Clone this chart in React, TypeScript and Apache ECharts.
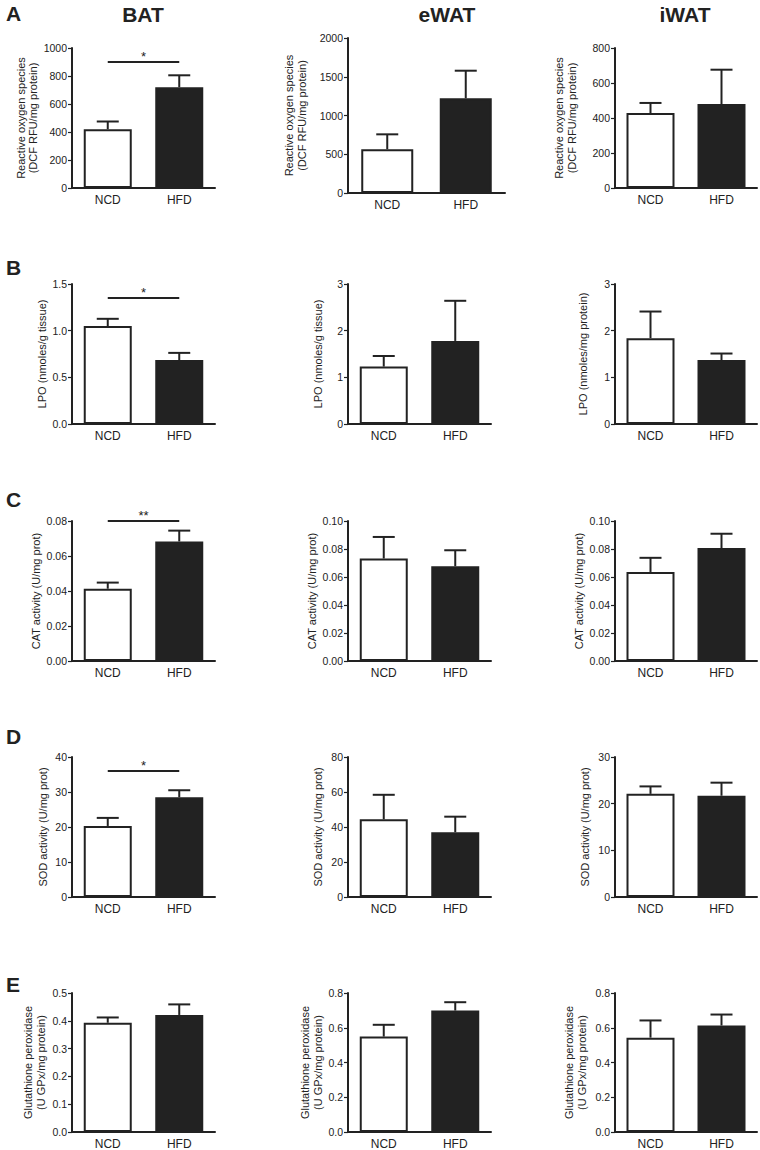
import React, { useEffect, useRef } from "react";
import * as echarts from "echarts";

// ---------- data ----------
const categories = ["NCD", "HFD"];
const rowLetters = ["A", "B", "C", "D", "E"];
const columnTitles = ["BAT", "eWAT", "iWAT"];

// Row A: reactive oxygen species
const rosBATMean = [420, 720];
const rosBATSem = [55, 85];
const rosEWATMean = [565, 1222];
const rosEWATSem = [192, 356];
const rosIWATMean = [428, 480];
const rosIWATSem = [58, 196];

// Row B: LPO
const lpoBATMean = [1.05, 0.685];
const lpoBATSem = [0.077, 0.077];
const lpoEWATMean = [1.23, 1.78];
const lpoEWATSem = [0.227, 0.86];
const lpoIWATMean = [1.84, 1.37];
const lpoIWATSem = [0.57, 0.14];

// Row C: CAT activity
const catBATMean = [0.0413, 0.0683];
const catBATSem = [0.0035, 0.0062];
const catEWATMean = [0.0732, 0.0677];
const catEWATSem = [0.0154, 0.0114];
const catIWATMean = [0.0636, 0.0807];
const catIWATSem = [0.0101, 0.0102];

// Row D: SOD activity
const sodBATMean = [20.3, 28.5];
const sodBATSem = [2.3, 2.0];
const sodEWATMean = [44.4, 37.0];
const sodEWATSem = [14.0, 8.9];
const sodIWATMean = [22.1, 21.7];
const sodIWATSem = [1.6, 2.8];

// Row E: glutathione peroxidase
const gpxBATMean = [0.393, 0.421];
const gpxBATSem = [0.019, 0.038];
const gpxEWATMean = [0.549, 0.699];
const gpxEWATSem = [0.068, 0.048];
const gpxIWATMean = [0.543, 0.613];
const gpxIWATSem = [0.099, 0.063];

// axis names
const yNames = [
  ["Reactive oxygen species\n(DCF RFU/mg protein)", "Reactive oxygen species\n(DCF RFU/mg protein)", "Reactive oxygen species\n(DCF RFU/mg protein)"],
  ["LPO (nmoles/g tissue)", "LPO (nmoles/g tissue)", "LPO (nmoles/mg protein)"],
  ["CAT activity (U/mg prot)", "CAT activity (U/mg prot)", "CAT activity (U/mg prot)"],
  ["SOD activity (U/mg prot)", "SOD activity (U/mg prot)", "SOD activity (U/mg prot)"],
  ["Glutathione peroxidase\n(U GPx/mg protein)", "Glutathione peroxidase\n(U GPx/mg protein)", "Glutathione peroxidase\n(U GPx/mg protein)"],
];

// axis scales (tick labels)
const yMax = [[1000, 2000, 800], [1.5, 3, 3], [0.08, 0.1, 0.1], [40, 80, 30], [0.5, 0.8, 0.8]];
const yStep = [[200, 500, 200], [0.5, 1, 1], [0.02, 0.02, 0.02], [10, 20, 10], [0.1, 0.2, 0.2]];
const yDecimals = [[0, 0, 0], [1, 0, 0], [2, 2, 2], [0, 0, 0], [1, 1, 1]];

// significance (BAT column only)
const sigLabels = ["*", "*", "**", "*", ""];
const sigLevels = [900, 1.35, 0.08, 36, null];

const means = [
  [rosBATMean, rosEWATMean, rosIWATMean],
  [lpoBATMean, lpoEWATMean, lpoIWATMean],
  [catBATMean, catEWATMean, catIWATMean],
  [sodBATMean, sodEWATMean, sodIWATMean],
  [gpxBATMean, gpxEWATMean, gpxIWATMean],
];
const sems = [
  [rosBATSem, rosEWATSem, rosIWATSem],
  [lpoBATSem, lpoEWATSem, lpoIWATSem],
  [catBATSem, catEWATSem, catIWATSem],
  [sodBATSem, sodEWATSem, sodIWATSem],
  [gpxBATSem, gpxEWATSem, gpxIWATSem],
];

// ---------- layout ----------
const FONT = "'Liberation Sans', Arial, Helvetica, sans-serif";
const INK = "#222222";
const colLeft = [72, 348, 615];
const colWidth = [143, 143, 142];
const rowTop = [48, 284, 521, 757, 993];
const rowHeight = 140;
const nameGaps = [
  [29, 40, 37],
  [24, 24, 26],
  [28, 29, 29],
  [23, 24, 24],
  [25, 24, 27],
];
const letterY = [14, 268, 500, 737, 985];
const titleX = [143, 447, 685];

function buildOption() {
  const grid: any[] = [];
  const xAxis: any[] = [];
  const yAxis: any[] = [];
  const series: any[] = [];
  let idx = 0;
  for (let r = 0; r < 5; r++) {
    for (let c = 0; c < 3; c++) {
      let top = rowTop[r];
      let height = rowHeight;
      let width = colWidth[c];
      let barWidth = 48;
      if (r === 0 && c === 1) {
        top = 38;
        height = 155;
        width = 157;
        barWidth = 52;
      }
      grid.push({ left: colLeft[c], top, width, height, containLabel: false });
      xAxis.push({
        type: "category",
        gridIndex: idx,
        data: categories,
        axisLine: { show: true, lineStyle: { color: INK, width: 2 } },
        axisTick: { show: false },
        axisLabel: { color: INK, fontSize: 12, fontFamily: FONT, margin: 6 },
        splitLine: { show: false },
      });
      const dec = yDecimals[r][c];
      yAxis.push({
        type: "value",
        gridIndex: idx,
        min: 0,
        max: yMax[r][c],
        interval: yStep[r][c],
        name: yNames[r][c],
        nameLocation: "middle",
        nameRotate: 90,
        nameGap: nameGaps[r][c],
        nameTextStyle: { color: INK, fontSize: 11, fontFamily: FONT, lineHeight: 12.5 },
        axisLine: { show: true, lineStyle: { color: INK, width: 2 } },
        axisTick: { show: true, length: 4, lineStyle: { color: INK, width: 1.2 } },
        axisLabel: {
          color: INK,
          fontSize: 10.5,
          fontFamily: FONT,
          margin: 5,
          formatter: (v: number) => v.toFixed(dec),
        },
        splitLine: { show: false },
      });
      const m = means[r][c];
      const s = sems[r][c];
      series.push({
        type: "bar",
        xAxisIndex: idx,
        yAxisIndex: idx,
        barWidth,
        data: m.map((v, i) => ({
          value: v,
          itemStyle: { color: i === 0 ? "#ffffff" : INK, borderColor: INK, borderWidth: 2 },
        })),
        z: 2,
      });
      series.push({
        type: "custom",
        xAxisIndex: idx,
        yAxisIndex: idx,
        clip: false,
        z: 3,
        encode: { x: 0, y: 1 },
        data: m.map((v, i) => [i, v, v + s[i]]),
        renderItem: (params: any, api: any) => {
          const base = api.coord([api.value(0), api.value(1)]);
          const tip = api.coord([api.value(0), api.value(2)]);
          return {
            type: "group",
            children: [
              { type: "line", shape: { x1: base[0], y1: base[1], x2: tip[0], y2: tip[1] }, style: { stroke: INK, lineWidth: 2 } },
              { type: "line", shape: { x1: tip[0] - 11, y1: tip[1], x2: tip[0] + 11, y2: tip[1] }, style: { stroke: INK, lineWidth: 2 } },
            ],
          };
        },
      });
      if (c === 0 && sigLevels[r] !== null) {
        const lbl = sigLabels[r];
        series.push({
          type: "custom",
          xAxisIndex: idx,
          yAxisIndex: idx,
          clip: false,
          z: 3,
          encode: { x: 0, y: 1 },
          data: [[0, sigLevels[r]]],
          renderItem: (params: any, api: any) => {
            const y = api.value(1);
            const p0 = api.coord([0, y]);
            const p1 = api.coord([1, y]);
            return {
              type: "group",
              children: [
                { type: "line", shape: { x1: p0[0], y1: p0[1], x2: p1[0], y2: p1[1] }, style: { stroke: INK, lineWidth: 2 } },
                {
                  type: "text",
                  x: (p0[0] + p1[0]) / 2,
                  y: p0[1] - 6,
                  style: { text: lbl, textAlign: "center", textVerticalAlign: "middle", fill: INK, font: `13px ${FONT}` },
                },
              ],
            };
          },
        });
      }
      idx++;
    }
  }

  const graphic: any[] = [];
  rowLetters.forEach((l, r) => {
    graphic.push({
      type: "text",
      left: 6,
      top: letterY[r] - 11,
      style: { text: l, fill: INK, font: `bold 21px ${FONT}` },
    });
  });
  columnTitles.forEach((t, c) => {
    graphic.push({
      type: "text",
      x: titleX[c],
      y: 14.5,
      style: { text: t, fill: INK, font: `bold 21px ${FONT}`, textAlign: "center", textVerticalAlign: "middle" },
    });
  });

  return {
    animation: false,
    backgroundColor: "#ffffff",
    grid,
    xAxis,
    yAxis,
    series,
    graphic,
  };
}

export default function App() {
  const ref = useRef<HTMLDivElement>(null);
  useEffect(() => {
    document.body.style.margin = "0";
    if (!ref.current) return;
    const chart = echarts.init(ref.current, null, { renderer: "svg" });
    chart.setOption(buildOption() as any);
    return () => chart.dispose();
  }, []);
  return <div ref={ref} style={{ width: 760, height: 1150 }} />;
}
